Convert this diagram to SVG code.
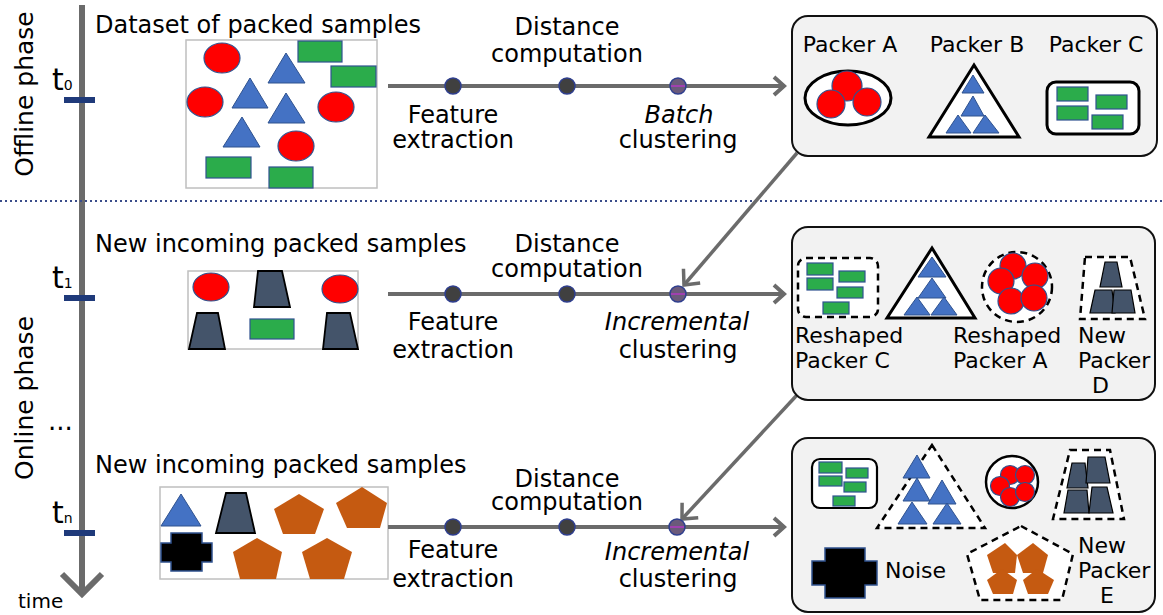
<svg xmlns="http://www.w3.org/2000/svg" width="1163" height="615" viewBox="0 0 1163 615">
<style>
text{font-family:"DejaVu Sans",Verdana,sans-serif;fill:#000}
.t24{font-size:24px}
.t22{font-size:22px}
.ph{font-size:25px}
.it{font-style:italic}
.mid{text-anchor:middle}
.red{fill:#ff0000;stroke:#2f528f;stroke-width:1.2}
.tri{fill:#4472c4;stroke:#2f528f;stroke-width:1}
.grn{fill:#2bac4b;stroke:#2f528f;stroke-width:1.2}
.trap{fill:#44546a;stroke:#000;stroke-width:1.8}
.pent{fill:#c55a11}
.noise{fill:#000;stroke:#2f528f;stroke-width:1.5}
.holder{fill:#fff;stroke:#000;stroke-width:3}
.dash{fill:#fff;stroke:#000;stroke-width:2.5;stroke-dasharray:7 5}
.panel{fill:#f2f2f2;stroke:#111;stroke-width:2}
.sbox{fill:#fff;stroke:#bfbfbf;stroke-width:1.5}
.conn{stroke:#6b6b6b;stroke-width:4;fill:none}
.diag{stroke:#6b6b6b;stroke-width:3.5;fill:none}
.dot{fill:#404040;stroke:#2f3f8f;stroke-width:1.5}
.dotc{fill:#6b5a7b;stroke:#2f3f8f;stroke-width:1.5}
.tick{fill:#1f3a7a}
</style>
<defs>
<marker id="ah" markerUnits="userSpaceOnUse" viewBox="-14 -12 18 24" markerWidth="18" markerHeight="24" refX="0" refY="0" orient="auto" overflow="visible">
<path d="M-10,-9 L0,0 L-10,9" fill="none" stroke="#6b6b6b" stroke-width="4"/>
</marker>
<marker id="ahd" markerUnits="userSpaceOnUse" viewBox="-16 -14 20 28" markerWidth="20" markerHeight="28" refX="0" refY="0" orient="auto" overflow="visible">
<path d="M-12,-11 L0,0 L-12,11" fill="none" stroke="#6b6b6b" stroke-width="3.5"/>
</marker>
<marker id="ahbig" markerUnits="userSpaceOnUse" viewBox="-24 -24 28 48" markerWidth="28" markerHeight="48" refX="0" refY="0" orient="auto" overflow="visible">
<path d="M-20,-20 L0,0 L-20,20" fill="none" stroke="#6b6b6b" stroke-width="6"/>
</marker>
</defs>
<rect width="1163" height="615" fill="#fff"/>

<g id="timeline">
<line x1="82" y1="5" x2="82" y2="594" stroke="#6b6b6b" stroke-width="6" marker-end="url(#ahbig)"/>
<rect class="tick" x="64" y="97" width="31" height="6"/>
<rect class="tick" x="64" y="295" width="31" height="6"/>
<rect class="tick" x="64" y="530" width="31" height="6"/>
<text x="52" y="90" style="font-size:30px">t<tspan style="font-size:14px">0</tspan></text>
<text x="52" y="288" style="font-size:30px">t<tspan style="font-size:14px">1</tspan></text>
<text x="52" y="523" style="font-size:30px">t<tspan style="font-size:14px">n</tspan></text>
<text x="48" y="430" style="font-size:26px">...</text>
<text x="18" y="608" style="font-size:20px">time</text>
<text class="ph mid" transform="translate(33,94) rotate(-90)">Offline phase</text>
<text class="ph mid" transform="translate(33,398) rotate(-90)">Online phase</text>
</g>

<line id="separator" x1="0" y1="201" x2="1163" y2="201" stroke="#3b4d8a" stroke-width="2" stroke-dasharray="2 3"/>

<g id="dataset">
<text class="t24" x="95" y="33">Dataset of packed samples</text>
<rect class="sbox" x="186" y="40" width="191" height="148"/>
<ellipse class="red" cx="222" cy="58" rx="18" ry="15"/>
<polygon class="tri" points="286,53 268,83 305,83"/>
<rect class="grn" x="298" y="41" width="44" height="21"/>
<rect class="grn" x="331" y="66" width="45" height="21"/>
<ellipse class="red" cx="205" cy="102" rx="18" ry="15"/>
<polygon class="tri" points="250,78 232,108 268,108"/>
<polygon class="tri" points="286,93 268,123 305,123"/>
<ellipse class="red" cx="336" cy="107" rx="18" ry="15"/>
<polygon class="tri" points="242,117 223,147 260,147"/>
<ellipse class="red" cx="296" cy="146" rx="18" ry="15"/>
<rect class="grn" x="206" y="157" width="45" height="21"/>
<rect class="grn" x="269" y="167" width="44" height="21"/>
</g>

<g id="incoming1">
<text class="t24" x="95" y="252">New incoming packed samples</text>
<rect class="sbox" x="188" y="271" width="170" height="78"/>
<ellipse class="red" cx="211" cy="287" rx="18" ry="14"/>
<polygon class="trap" points="258,271 282,271 290,307 254,307"/>
<ellipse class="red" cx="340" cy="289" rx="18" ry="14"/>
<polygon class="trap" points="197,313 218,313 225,349 189,349"/>
<rect class="grn" x="250" y="319" width="44" height="20"/>
<polygon class="trap" points="327,313 350,313 358,349 323,349"/>
</g>

<g id="incoming2">
<text class="t24" x="95" y="473">New incoming packed samples</text>
<rect class="sbox" x="160" y="487" width="228" height="92"/>
<polygon class="tri" points="181,494 161,526 201,526"/>
<polygon class="trap" points="226,493 246,493 255,533 216,533"/>
<polygon class="pent" points="299,494 324,509 315,534 283,534 274,509"/>
<polygon class="pent" points="362,487 387,503 380,528 347,528 336,503"/>
<polygon class="noise" points="171,533 202,533 202,543 212,543 212,562 202,562 202,571 171,571 171,562 161,562 161,543 171,543"/>
<polygon class="pent" points="257,538 282,552 276,579 240,579 233,552"/>
<polygon class="pent" points="327,538 352,552 344,579 310,579 302,552"/>
</g>

<g id="connectors">
<line class="conn" x1="388" y1="86" x2="784" y2="86" marker-end="url(#ah)"/>
<line class="conn" x1="388" y1="294" x2="784" y2="294" marker-end="url(#ah)"/>
<line class="conn" x1="388" y1="527" x2="784" y2="527" marker-end="url(#ah)"/>
<line class="diag" x1="797" y1="153" x2="684" y2="285" marker-end="url(#ahd)"/>
<line class="diag" x1="797" y1="395" x2="682" y2="519" marker-end="url(#ahd)"/>
</g>

<g id="stages1">
<circle class="dot" cx="453" cy="86" r="8"/>
<circle class="dot" cx="567" cy="86" r="8"/>
<circle class="dotc" cx="678" cy="86" r="8"/>
<line x1="671" y1="86" x2="685" y2="86" stroke="#a040b0" stroke-width="2"/>
<text class="t24 mid" x="567" y="35">Distance</text>
<text class="t24 mid" x="567" y="62">computation</text>
<text class="t24 mid" x="453" y="123">Feature</text>
<text class="t24 mid" x="453" y="148">extraction</text>
<text class="t24 mid it" x="679" y="123">Batch</text>
<text class="t24 mid" x="678" y="148">clustering</text>
</g>

<g id="stages2">
<circle class="dot" cx="453" cy="294" r="8"/>
<circle class="dot" cx="567" cy="294" r="8"/>
<circle class="dotc" cx="678" cy="294" r="8"/>
<line x1="671" y1="294" x2="685" y2="294" stroke="#a040b0" stroke-width="2"/>
<text class="t24 mid" x="567" y="252">Distance</text>
<text class="t24 mid" x="567" y="277">computation</text>
<text class="t24 mid" x="453" y="330">Feature</text>
<text class="t24 mid" x="453" y="358">extraction</text>
<text class="t24 mid it" x="677" y="330">Incremental</text>
<text class="t24 mid" x="678" y="358">clustering</text>
</g>

<g id="stages3">
<circle class="dot" cx="453" cy="527" r="8"/>
<circle class="dot" cx="567" cy="527" r="8"/>
<circle class="dotc" cx="677" cy="527" r="8"/>
<line x1="670" y1="527" x2="684" y2="527" stroke="#a040b0" stroke-width="2"/>
<text class="t24 mid" x="567" y="487">Distance</text>
<text class="t24 mid" x="567" y="510">computation</text>
<text class="t24 mid" x="453" y="558">Feature</text>
<text class="t24 mid" x="453" y="587">extraction</text>
<text class="t24 mid it" x="677" y="560">Incremental</text>
<text class="t24 mid" x="678" y="587">clustering</text>
</g>

<g id="clusters-offline">
<rect class="panel" x="792" y="16" width="365" height="140" rx="16"/>
<text class="t22 mid" x="850" y="52">Packer A</text>
<text class="t22 mid" x="977" y="52">Packer B</text>
<text class="t22 mid" x="1096" y="52">Packer C</text>
<ellipse class="holder" cx="848" cy="98" rx="43" ry="27"/>
<circle class="red" cx="847" cy="86" r="15"/>
<circle class="red" cx="831" cy="104" r="14"/>
<circle class="red" cx="867" cy="102" r="14"/>
<polygon class="holder" points="974,65 1019,137 929,137"/>
<polygon class="tri" points="973,75 984,93 962,93"/>
<polygon class="tri" points="973,96 984,116 961,116"/>
<polygon class="tri" points="958,115 971,133 946,133"/>
<polygon class="tri" points="985,115 999,133 973,133"/>
<rect class="holder" x="1047" y="82" width="92" height="52" rx="9"/>
<rect class="grn" x="1057" y="87" width="31" height="14"/>
<rect class="grn" x="1057" y="106" width="31" height="14"/>
<rect class="grn" x="1096" y="95" width="31" height="14"/>
<rect class="grn" x="1092" y="115" width="31" height="14"/>
</g>

<g id="clusters-t1">
<rect class="panel" x="792" y="227" width="363" height="173" rx="16"/>
<rect class="dash" x="798" y="258" width="80" height="59" rx="8"/>
<rect class="grn" x="807" y="263" width="26" height="12"/>
<rect class="grn" x="807" y="278" width="26" height="12"/>
<rect class="grn" x="839" y="271" width="26" height="11"/>
<rect class="grn" x="837" y="287" width="26" height="11"/>
<rect class="grn" x="823" y="302" width="26" height="12"/>
<polygon class="holder" points="932,248 975,318 887,318"/>
<polygon class="tri" points="932,257 946,277 918,277"/>
<polygon class="tri" points="932,278 946,298 918,298"/>
<polygon class="tri" points="917,297 930,315 904,315"/>
<polygon class="tri" points="944,297 957,315 931,315"/>
<circle class="dash" cx="1017" cy="287" r="35"/>
<circle class="red" cx="1013" cy="266" r="13"/>
<circle class="red" cx="1035" cy="276" r="13"/>
<circle class="red" cx="1001" cy="281" r="13"/>
<circle class="red" cx="1011" cy="301" r="13"/>
<circle class="red" cx="1034" cy="298" r="13"/>
<polygon class="dash" points="1085,257 1130,257 1145,319 1080,319"/>
<polygon class="trap" points="1105,262 1117,262 1122,287 1100,287" style="stroke-width:1.2"/>
<polygon class="trap" points="1095,290 1112,290 1115,313 1090,313" style="stroke-width:1.2"/>
<polygon class="trap" points="1114,290 1131,290 1135,313 1112,313" style="stroke-width:1.2"/>
<text class="t22" x="795" y="343">Reshaped</text>
<text class="t22" x="795" y="368">Packer C</text>
<text class="t22" x="953" y="343">Reshaped</text>
<text class="t22" x="953" y="368">Packer A</text>
<text class="t22" x="1078" y="343">New</text>
<text class="t22" x="1078" y="368">Packer</text>
<text class="t22" x="1092" y="393">D</text>
</g>

<g id="clusters-tn">
<rect class="panel" x="792" y="438" width="363" height="174" rx="16"/>
<rect class="holder" x="812" y="459" width="65" height="49" rx="8" style="stroke-width:2.2"/>
<rect class="grn" x="819" y="462" width="23" height="11"/>
<rect class="grn" x="819" y="476" width="23" height="10"/>
<rect class="grn" x="846" y="468" width="22" height="10"/>
<rect class="grn" x="844" y="482" width="22" height="10"/>
<rect class="grn" x="833" y="496" width="22" height="10"/>
<polygon class="dash" points="932,445 985,528 877,528"/>
<polygon class="tri" points="917,455 930,478 903,478"/>
<polygon class="tri" points="917,478 930,501 903,501"/>
<polygon class="tri" points="942,480 956,504 928,504"/>
<polygon class="tri" points="912,502 927,524 898,524"/>
<polygon class="tri" points="947,503 961,524 933,524"/>
<circle class="holder" cx="1012" cy="482" r="26" style="stroke-width:2.5"/>
<circle class="red" cx="1010" cy="475" r="9.5"/>
<circle class="red" cx="1025" cy="475" r="9.5"/>
<circle class="red" cx="1000" cy="486" r="9.5"/>
<circle class="red" cx="1010" cy="497" r="9.5"/>
<circle class="red" cx="1025" cy="492" r="9.5"/>
<polygon class="dash" points="1070,450 1110,450 1124,519 1053,519"/>
<polygon class="trap" points="1072,463 1085,463 1088,488 1067,488" style="stroke-width:1.2"/>
<polygon class="trap" points="1088,457 1105,457 1110,483 1086,483" style="stroke-width:1.2"/>
<polygon class="trap" points="1068,490 1087,490 1089,513 1064,513" style="stroke-width:1.2"/>
<polygon class="trap" points="1092,487 1107,487 1113,513 1089,513" style="stroke-width:1.2"/>
<polygon class="noise" points="825,548 865,548 865,561 877,561 877,585 865,585 865,598 825,598 825,585 812,585 812,561 825,561"/>
<text class="t22" x="885" y="578">Noise</text>
<polygon class="dash" points="1021,526 1073,554 1062,600 980,600 967,554"/>
<polygon class="pent" points="1005,543 1017,555 1015,573 993,573 987,555"/>
<polygon class="pent" points="1033,543 1048,555 1043,573 1023,573 1017,555"/>
<polygon class="pent" points="1002,569 1017,580 1013,594 993,594 987,580"/>
<polygon class="pent" points="1037,569 1054,580 1048,594 1028,594 1023,580"/>
<text class="t22" x="1078" y="553">New</text>
<text class="t22" x="1078" y="578">Packer</text>
<text class="t22" x="1100" y="603">E</text>
</g>
</svg>
